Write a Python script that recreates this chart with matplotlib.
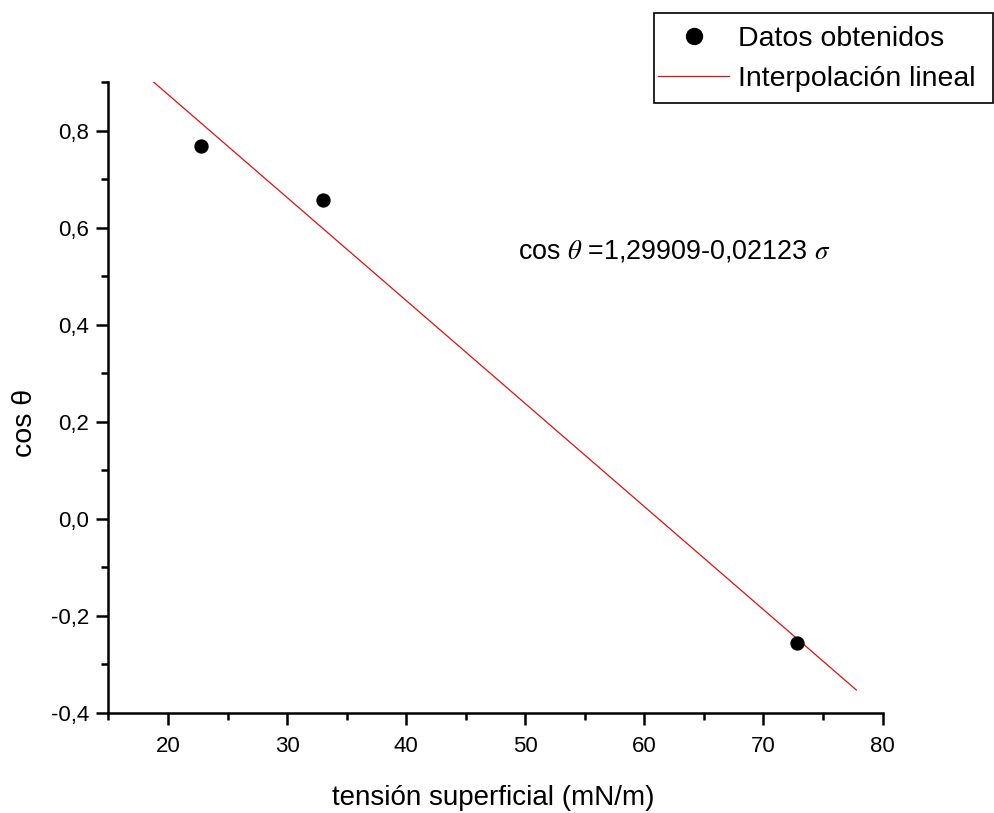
import numpy as np
import matplotlib
matplotlib.use("Agg")
import matplotlib.pyplot as plt
from matplotlib.lines import Line2D
from matplotlib.patches import Rectangle

plt.rcParams['font.family'] = ['Liberation Sans', 'DejaVu Sans']
plt.rcParams['mathtext.fontset'] = 'stix'

# Measured data
tension = [22.8, 33.0, 72.8]          # mN/m
cos_theta = [0.768, 0.658, -0.256]

# Linear fit: cos(theta) = a + b * sigma
fit_a = 1.29909
fit_b = -0.02123
fit_range = [18.8, 77.8]

x_ticks = [20, 30, 40, 50, 60, 70, 80]
y_ticks = [-0.4, -0.2, 0.0, 0.2, 0.4, 0.6, 0.8]

fig = plt.figure(figsize=(9.95, 8.13), dpi=100)
ax = fig.add_axes([0.109, 0.123, 0.778, 0.776])

xf = np.array(fit_range)
line, = ax.plot(xf, fit_a + fit_b * xf, color='#e01010', lw=0.9, zorder=2)
pts, = ax.plot(tension, cos_theta, 'o', color='black', ms=9.3, zorder=3)

ax.set_xlim(15, 80)
ax.set_ylim(-0.4, 0.9)
ax.set_xticks(x_ticks)
ax.set_yticks(y_ticks)
ax.set_xticks([15, 25, 35, 45, 55, 65, 75], minor=True)
ax.set_yticks([-0.3, -0.1, 0.1, 0.3, 0.5, 0.7, 0.9], minor=True)
ax.set_xticklabels([str(v) for v in x_ticks])
ax.set_yticklabels([f"{v:.1f}".replace('.', ',') for v in y_ticks])

for s in ['top', 'right']:
    ax.spines[s].set_visible(False)
for s in ['left', 'bottom']:
    ax.spines[s].set_linewidth(1.8)

ax.tick_params(which='major', direction='out', length=8.5, width=1.8,
               labelsize=16)
ax.tick_params(axis='y', which='major', pad=5.5)
ax.tick_params(axis='x', which='major', pad=8)
ax.tick_params(which='minor', direction='out', length=4.7, width=1.8)

ax.set_xlabel('tensión superficial (mN/m)', fontsize=20, va='center')
ax.xaxis.set_label_coords(0.497, -0.135)
ax.set_ylabel('cos θ', fontsize=20.5, va='center')
ax.yaxis.set_label_coords(-0.108, 0.46)

ax.text(49.4, 0.55, r'cos $\theta$ =1,29909-0,02123 $\sigma$',
        fontsize=19.4, va='center', ha='left')

# Legend entries without their own frame; the box is drawn separately
handles = [Line2D([], [], marker='o', ls='none', color='black', ms=11.5),
           Line2D([], [], color='#e01010', lw=0.9)]
leg = fig.legend(handles, ['Datos obtenidos', 'Interpolación lineal'],
                 loc='upper left', bbox_to_anchor=(658 / 995, 1 - 26 / 813),
                 fontsize=20.5, frameon=False, handlelength=2.5,
                 handletextpad=0.3, borderpad=0, labelspacing=0.5,
                 borderaxespad=0)

box_x0, box_y0 = 654 / 995, 1 - 103 / 813
box_w = (993 - 654) / 995
box_h = (103 - 13) / 813
fig.patches.append(Rectangle((box_x0, box_y0), box_w, box_h,
                             transform=fig.transFigure, fill=False,
                             edgecolor='black', linewidth=1.2))

fig.savefig('out.png', dpi=100)
